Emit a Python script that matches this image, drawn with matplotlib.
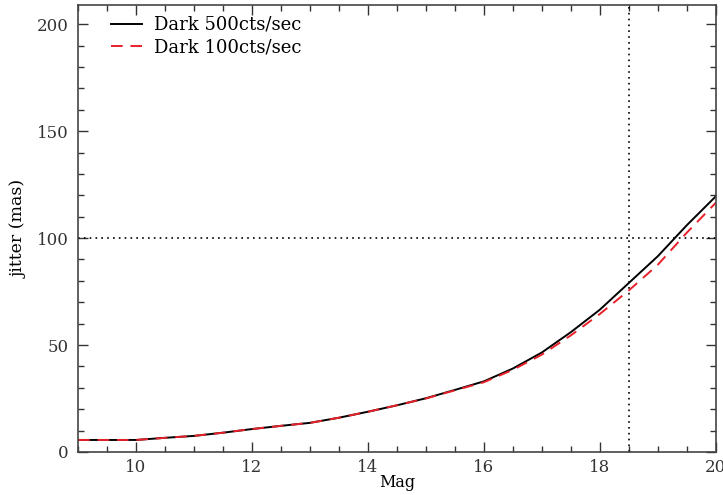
import matplotlib
matplotlib.use("Agg")
import matplotlib.pyplot as plt
from matplotlib.ticker import MultipleLocator

# magnitudes and jitter (mas)
mag = [9, 9.5, 10, 10.5, 11, 11.5, 12, 12.5, 13, 13.5, 14, 14.5, 15,
       15.5, 16, 16.5, 17, 17.5, 18, 18.5, 19, 19.5, 20]
jitter_500 = [5.6, 5.6, 5.6, 6.6, 7.5, 9.0, 10.7, 12.2, 13.6, 16.0, 18.8, 21.8, 25.1,
              29.0, 33.0, 39.0, 46.5, 56.0, 66.5, 79.0, 91.5, 106.0, 119.5]
jitter_100 = [5.6, 5.6, 5.6, 6.6, 7.5, 9.0, 10.7, 12.2, 13.6, 16.0, 18.8, 21.8, 25.0,
              28.8, 32.6, 38.4, 45.5, 54.5, 64.5, 75.5, 87.5, 102.5, 116.5]
mag_limit = 18.5
jitter_limit = 100

plt.rcParams['font.family'] = 'DejaVu Serif'

fig = plt.figure(figsize=(7.23, 4.95), dpi=100)
ax = fig.add_axes([0.108, 0.087, 0.882, 0.903])

ax.plot(mag, jitter_500, color='black', lw=1.4, label='Dark 500cts/sec')
ax.plot(mag, jitter_100, color='#e8202a', lw=1.4, ls=(0, (6, 4)), label='Dark 100cts/sec')
ax.axvline(mag_limit, color='black', lw=1.2, ls=(0, (1, 2.5)))
ax.axhline(jitter_limit, color='black', lw=1.2, ls=(0, (1, 2.5)))

ax.set_xlim(9, 20)
ax.set_ylim(0, 209)
ax.xaxis.set_major_locator(MultipleLocator(2))
ax.xaxis.set_minor_locator(MultipleLocator(0.5))
ax.yaxis.set_major_locator(MultipleLocator(50))
ax.yaxis.set_minor_locator(MultipleLocator(10))
ax.tick_params(which='both', direction='in', top=True, right=True, labelsize=12, width=1, colors='#333333')
ax.tick_params(which='major', length=7, pad=7)
ax.tick_params(which='minor', length=4)
ax.tick_params(axis='x', which='major', pad=5)
for s in ax.spines.values():
    s.set_linewidth(1.2)
    s.set_color('#444444')

ax.set_xlabel('Mag', fontsize=11.5, labelpad=-1)
ax.set_ylabel('jitter (mas)', fontsize=12.5, labelpad=6)

ax.legend(loc='upper left', frameon=False, fontsize=13, handlelength=1.7,
          handletextpad=0.7, labelspacing=0.25, borderaxespad=0.5,
          bbox_to_anchor=(0.026, 1.012))

fig.savefig('out.png', dpi=100)
